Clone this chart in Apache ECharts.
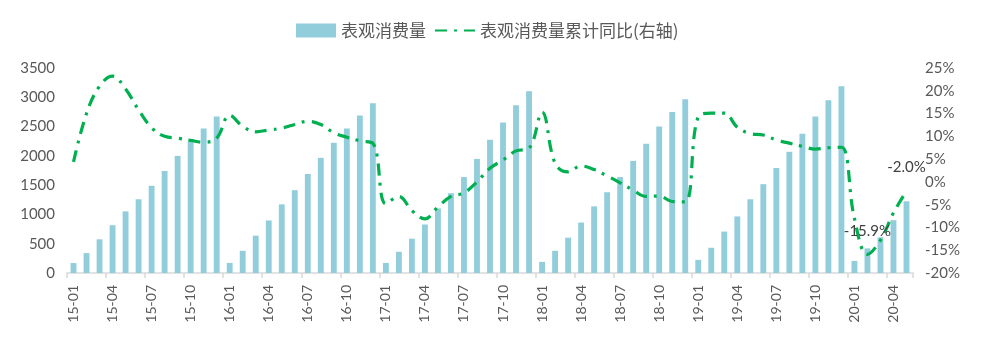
<!DOCTYPE html>
<html>
<head>
<meta charset="utf-8">
<script src="https://cdn.jsdelivr.net/npm/echarts@6/dist/echarts.min.js"></script>
<style>html,body{margin:0;padding:0;background:#fff}#c{width:992px;height:340px}</style>
</head>
<body>
<div id="c"></div>
<script>
const categories = [
 '15-01','15-02','15-03','15-04','15-05','15-06','15-07','15-08','15-09','15-10','15-11','15-12',
 '16-01','16-02','16-03','16-04','16-05','16-06','16-07','16-08','16-09','16-10','16-11','16-12',
 '17-01','17-02','17-03','17-04','17-05','17-06','17-07','17-08','17-09','17-10','17-11','17-12',
 '18-01','18-02','18-03','18-04','18-05','18-06','18-07','18-08','18-09','18-10','18-11','18-12',
 '19-01','19-02','19-03','19-04','19-05','19-06','19-07','19-08','19-09','19-10','19-11','19-12',
 '20-01','20-02','20-03','20-04','20-05'
];
const consumption = [
 170, 340, 575, 816, 1052, 1259, 1489, 1741, 2000, 2241, 2466, 2672,
 172, 379, 638, 897, 1172, 1414, 1690, 1966, 2224, 2466, 2690, 2897,
 172, 362, 586, 828, 1103, 1362, 1638, 1948, 2276, 2569, 2862, 3103,
 190, 379, 603, 862, 1138, 1379, 1638, 1914, 2207, 2500, 2747, 2966,
 224, 431, 707, 966, 1259, 1517, 1793, 2069, 2379, 2672, 2948, 3190,
 207, 420, 610, 902, 1224
];
const cumulativeYoY = [
 4.4, 15.0, 21.0, 23.2, 20.4, 15.8, 11.9, 10.0, 9.6, 9.1, 8.7, 9.6,
 14.6, 12.2, 11.0, 11.4, 11.8, 12.6, 13.3, 12.6, 10.8, 9.8, 9.0, 8.5,
 -4.8, -3.2, -6.3, -8.1, -5.5, -3.2, -2.4, 0.0, 3.0, 4.8, 6.8, 7.4,
 15.3, 4.1, 2.2, 3.5, 2.7, 1.3, -0.2, -1.8, -3.2, -3.1, -4.3, -4.4,
 14.3, 15.1, 15.1, 12.0, 10.6, 10.3, 9.2, 8.5, 7.8, 7.2, 7.5, 7.6,
 -8.0, -15.9, -12.8, -6.8, -2.0
];
const leftTicks = {min: 0, max: 3500, interval: 500};
const rightTicks = {min: -20, max: 25, interval: 5};
const labeledPoints = ['20-02', '20-05'];

const txt = '#595959';
const font = 'Lato, "Noto Sans", sans-serif';
const cjk = '"Noto Sans CJK SC", sans-serif';
const dash = [12, 7, 3, 7];

const lineData = cumulativeYoY.map((v, i) => {
  if (labeledPoints.indexOf(categories[i]) >= 0) {
    return {value: v, label: {show: true, position: 'top', distance: 16,
      formatter: p => p.value.toFixed(1) + '%', color: '#404040', fontSize: 15, fontFamily: font}};
  }
  return v;
});

const chart = echarts.init(document.getElementById('c'), null, {renderer: 'canvas'});
chart.setOption({
  animation: false,
  backgroundColor: '#fff',
  legend: {
    top: 17, left: 291, itemGap: 8, itemWidth: 40, itemHeight: 14,
    textStyle: {color: txt, fontSize: 17, fontFamily: cjk},
    data: [
      {name: '表观消费量', icon: 'rect'},
      {name: '表观消费量累计同比(右轴)', itemStyle: {opacity: 0}}
    ]
  },
  grid: {left: 67, right: 79, top: 68, bottom: 67},
  xAxis: {
    type: 'category', data: categories, boundaryGap: true,
    axisLine: {lineStyle: {color: '#d9d9d9', width: 1.5}},
    axisTick: {show: true, interval: 2, length: 5, lineStyle: {color: '#d9d9d9', width: 1.5}},
    axisLabel: {interval: 2, rotate: 90, margin: 12, color: txt, fontSize: 14, fontFamily: font}
  },
  yAxis: [
    {type: 'value', min: leftTicks.min, max: leftTicks.max, interval: leftTicks.interval,
     axisLine: {show: false}, axisTick: {show: false}, splitLine: {show: false},
     axisLabel: {color: txt, fontSize: 15, fontFamily: font, margin: 12, formatter: v => String(v)}},
    {type: 'value', min: rightTicks.min, max: rightTicks.max, interval: rightTicks.interval,
     axisLine: {show: false}, axisTick: {show: false}, splitLine: {show: false},
     axisLabel: {color: txt, fontSize: 15, fontFamily: font, margin: 12, formatter: v => v + '%'}}
  ],
  series: [
    {name: '表观消费量', type: 'bar', yAxisIndex: 0, data: consumption,
     barWidth: '45%', itemStyle: {color: '#92cddc'}},
    {name: '表观消费量累计同比(右轴)', type: 'line', yAxisIndex: 1, data: lineData,
     smooth: 0.4, showSymbol: true, symbol: 'circle', symbolSize: 0,
     lineStyle: {color: '#00b050', width: 3.2, type: dash, cap: 'butt'},
     itemStyle: {color: '#00b050'}, z: 5}
  ]
});
</script>
</body>
</html>
